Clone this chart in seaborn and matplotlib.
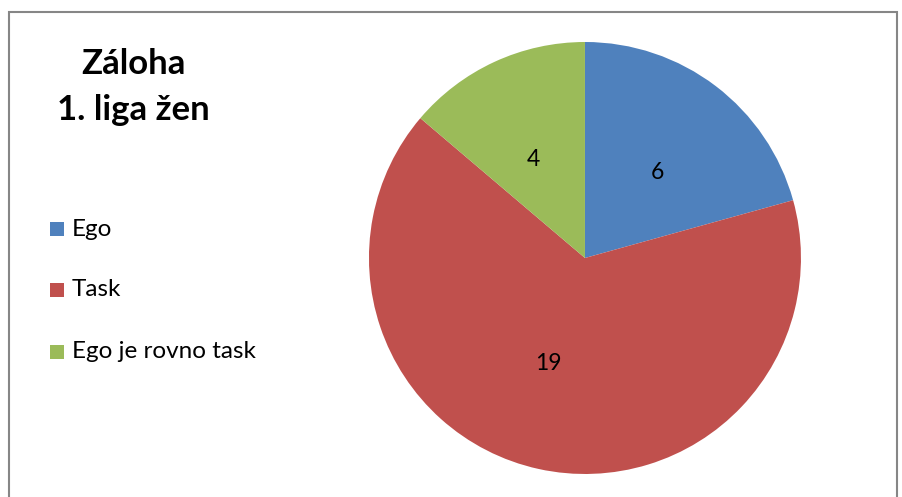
import matplotlib
matplotlib.use("Agg")
import matplotlib.pyplot as plt
import seaborn as sns
from matplotlib.patches import Rectangle

categories = ["Ego", "Task", "Ego je rovno task"]
values = [6, 19, 4]
colors = ["#4F81BD", "#C0504D", "#9BBB59"]
title_lines = ["Záloha", "1. liga žen"]

sns.set_theme(style="white")
plt.rcParams["font.family"] = ["Lato", "DejaVu Sans"]

fig = plt.figure(figsize=(9.03, 4.97), dpi=100)
fig.patch.set_facecolor("white")

# outer border
fig.add_artist(Rectangle((9/903, -0.05), (897-9)/903, 1.05 - 12/497,
                         transform=fig.transFigure, fill=False,
                         edgecolor="#868686", linewidth=1.5))

ax = fig.add_axes([0.4086, 0.0463, 0.4784, 0.8692])
wedges, texts = ax.pie(values, colors=colors, startangle=90, counterclock=False,
                       labels=[str(v) for v in values], labeldistance=0.5,
                       radius=1.0, wedgeprops=dict(linewidth=0),
                       textprops=dict(fontsize=16.5, color="black"))
ax.set_xlim(-1, 1)
ax.set_ylim(-1, 1)
ax.set_aspect("auto")
ax.axis("off")

fig.text(133/903, 1 - 64/497, title_lines[0], ha="center", va="center",
         fontsize=25, fontweight="bold", color="black")
fig.text(133/903, 1 - 110/497, title_lines[1], ha="center", va="center",
         fontsize=25, fontweight="bold", color="black")

leg_y = [229, 290, 352]
for cat, col, y in zip(categories, colors, leg_y):
    fig.add_artist(Rectangle((50/903, 1 - (y + 7)/497), 14/903, 14/497,
                             transform=fig.transFigure, facecolor=col,
                             edgecolor="none"))
    fig.text(72/903, 1 - y/497, cat, ha="left", va="center", fontsize=17.5,
             color="black")

fig.savefig("out.png", dpi=100, facecolor="white")
